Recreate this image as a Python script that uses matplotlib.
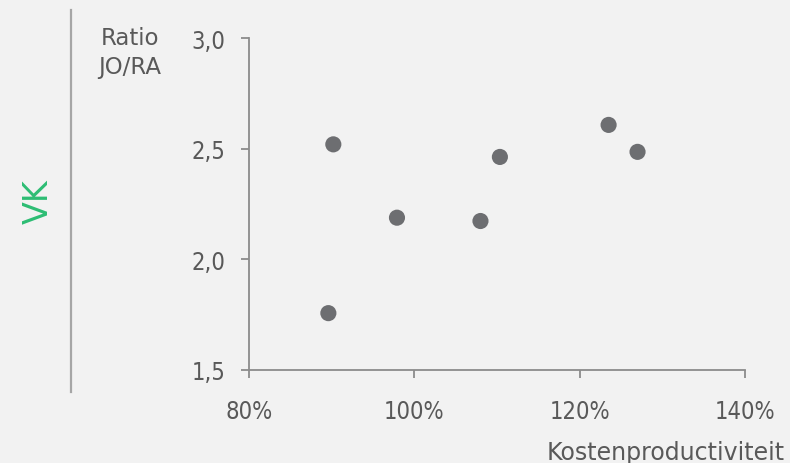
import matplotlib
matplotlib.use("Agg")
import matplotlib.pyplot as plt
from matplotlib.ticker import FuncFormatter, FixedLocator

# Data
kostenproductiviteit = [90.2, 89.6, 97.9, 108.0, 110.35, 123.5, 127.0]
ratio_jo_ra = [2.52, 1.756, 2.188, 2.173, 2.463, 2.608, 2.486]
x_ticks = [80, 100, 120, 140]
y_ticks = [1.5, 2.0, 2.5, 3.0]
x_label = "Kostenproductiviteit"
y_label = "Ratio\nJO/RA"
group_label = "VK"

BG = "#f2f2f2"
TXT = "#595959"
AX = "#8c8c8c"

fig = plt.figure(figsize=(7.9, 4.64), dpi=100, facecolor=BG)
ax = fig.add_axes([249/790, 1-370.7/464, (745-249)/790, (370.7-39.3)/464])
ax.set_facecolor(BG)

ax.scatter(kostenproductiviteit, ratio_jo_ra, s=135, color="#6d6e71",
           edgecolors="none", zorder=3, clip_on=False)

ax.set_xlim(80, 140)
ax.set_ylim(1.5, 3.0)
ax.xaxis.set_major_locator(FixedLocator(x_ticks))
ax.yaxis.set_major_locator(FixedLocator(y_ticks))
ax.xaxis.set_major_formatter(FuncFormatter(lambda v, p: f"{v:.0f}%"))
ax.yaxis.set_major_formatter(FuncFormatter(lambda v, p: f"{v:.1f}".replace(".", ",")))

for s in ["top", "right"]:
    ax.spines[s].set_visible(False)
for s in ["left", "bottom"]:
    ax.spines[s].set_color(AX)
    ax.spines[s].set_linewidth(1.3)

ax.tick_params(axis="both", direction="out", length=6, width=1.3, color=AX,
               labelcolor=TXT)
ax.tick_params(axis="x", pad=15)
ax.tick_params(axis="y", pad=11)
for lbl in ax.get_xticklabels() + ax.get_yticklabels():
    lbl.set_fontfamily("DejaVu Sans")
    lbl.set_fontstretch("condensed")
    lbl.set_fontsize(17)

fig.text(785/790, 1-453/464, x_label, ha="right", va="center",
         fontsize=17, color=TXT)
fig.text(130/790, 1-53/464, y_label, ha="center", va="center",
         fontsize=16.5, color=TXT, linespacing=1.3)
fig.text(38/790, 1-202/464, group_label, ha="center", va="center",
         rotation=90, fontsize=24, color="#2dbd74")

fig.add_artist(plt.Line2D([71.3/790, 71.3/790], [1-11/464, 1-393/464],
                          color="#a6a6a6", linewidth=1.6,
                          transform=fig.transFigure))

fig.savefig("out.png", dpi=100, facecolor=BG)
